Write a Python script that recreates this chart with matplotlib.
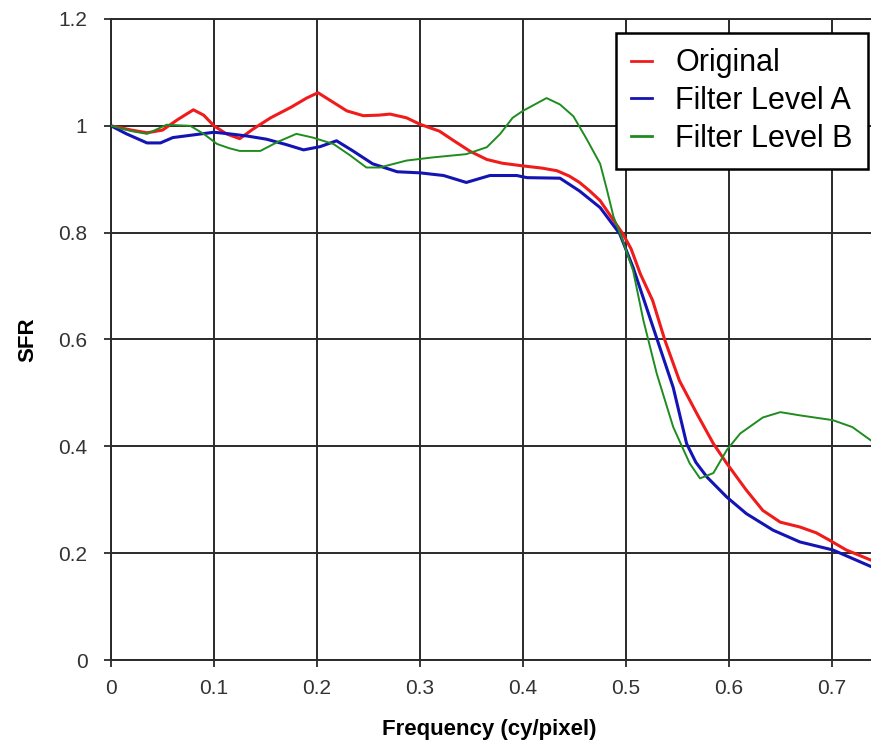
import matplotlib
matplotlib.use('Agg')
import matplotlib.pyplot as plt

# SFR curves, frequency in cy/pixel
orig_freq = [0, 0.02, 0.035, 0.05, 0.065, 0.08, 0.09, 0.1, 0.112, 0.125, 0.138, 0.155, 0.175, 0.19,
             0.201, 0.215, 0.229, 0.245, 0.26, 0.271, 0.287, 0.30, 0.319, 0.333, 0.349, 0.365, 0.38,
             0.40, 0.418, 0.433, 0.445, 0.455, 0.465, 0.475, 0.487, 0.497, 0.505, 0.514, 0.526, 0.538,
             0.552, 0.569, 0.585, 0.598, 0.617, 0.633, 0.65, 0.669, 0.685, 0.698, 0.714, 0.738]
orig_sfr = [1.0, 0.992, 0.987, 0.992, 1.012, 1.03, 1.02, 1.0, 0.985, 0.976, 0.994, 1.015, 1.035, 1.052,
            1.062, 1.045, 1.028, 1.019, 1.02, 1.022, 1.015, 1.003, 0.99, 0.972, 0.952, 0.937, 0.93,
            0.925, 0.921, 0.916, 0.906, 0.894, 0.878, 0.86, 0.826, 0.798, 0.77, 0.723, 0.673, 0.598,
            0.523, 0.461, 0.405, 0.368, 0.318, 0.28, 0.258, 0.249, 0.238, 0.224, 0.206, 0.187]

a_freq = [0, 0.015, 0.035, 0.048, 0.06, 0.08, 0.1, 0.115, 0.132, 0.151, 0.17, 0.187, 0.203, 0.219,
          0.235, 0.254, 0.278, 0.30, 0.323, 0.345, 0.368, 0.394, 0.404, 0.436, 0.455, 0.475, 0.494,
          0.507, 0.52, 0.533, 0.546, 0.559, 0.568, 0.579, 0.598, 0.617, 0.643, 0.669, 0.701, 0.738]
a_sfr = [1.0, 0.985, 0.968, 0.968, 0.978, 0.983, 0.988, 0.985, 0.981, 0.975, 0.965, 0.955, 0.961, 0.972,
         0.953, 0.929, 0.914, 0.912, 0.907, 0.894, 0.907, 0.907, 0.903, 0.902, 0.878, 0.847, 0.798,
         0.735, 0.66, 0.585, 0.51, 0.405, 0.37, 0.342, 0.305, 0.274, 0.243, 0.221, 0.206, 0.175]

b_freq = [0, 0.02, 0.035, 0.054, 0.077, 0.09, 0.103, 0.115, 0.125, 0.145, 0.162, 0.18, 0.196, 0.216,
          0.232, 0.248, 0.261, 0.287, 0.313, 0.345, 0.365, 0.378, 0.39, 0.40, 0.423, 0.436, 0.449,
          0.462, 0.475, 0.481, 0.488, 0.497, 0.507, 0.517, 0.53, 0.546, 0.562, 0.572, 0.585, 0.598,
          0.611, 0.633, 0.65, 0.669, 0.701, 0.72, 0.738]
b_sfr = [1.0, 0.99, 0.985, 1.002, 1.0, 0.985, 0.966, 0.958, 0.953, 0.953, 0.97, 0.985, 0.978, 0.966,
         0.945, 0.922, 0.922, 0.935, 0.941, 0.947, 0.96, 0.985, 1.015, 1.028, 1.052, 1.04, 1.018,
         0.975, 0.929, 0.885, 0.83, 0.785, 0.729, 0.636, 0.536, 0.436, 0.368, 0.34, 0.35, 0.393,
         0.424, 0.454, 0.464, 0.458, 0.449, 0.436, 0.411]

x_ticks = [0, 0.1, 0.2, 0.3, 0.4, 0.5, 0.6, 0.7]
y_ticks = [0, 0.2, 0.4, 0.6, 0.8, 1.0, 1.2]
y_tick_labels = ['0', '0.2', '0.4', '0.6', '0.8', '1', '1.2']

fig = plt.figure(figsize=(8.71, 7.43), dpi=100)
ax = fig.add_axes([111 / 871, 83 / 743, 762 / 871, 641 / 743])

ax.plot(orig_freq, orig_sfr, color='#f01c1c', lw=2.2, label='Original', zorder=3)
ax.plot(a_freq, a_sfr, color='#1414b4', lw=2.2, label='Filter Level A', zorder=3)
ax.plot(b_freq, b_sfr, color='#1e8c1e', lw=1.4, label='Filter Level B', zorder=3)

ax.set_xlim(0, 0.74)
ax.set_ylim(0, 1.2)
ax.set_xticks(x_ticks)
ax.set_xticklabels([str(t) for t in x_ticks])
ax.set_yticks(y_ticks)
ax.set_yticklabels(y_tick_labels)
ax.grid(True, color='#2a2a2a', lw=1.4)
ax.set_axisbelow(True)

ax.spines['right'].set_visible(False)
for s in ['left', 'bottom', 'top']:
    ax.spines[s].set_color('#2a2a2a')
    ax.spines[s].set_linewidth(1.4)

ax.tick_params(direction='out', length=5, width=1.3, color='#2a2a2a',
               labelsize=15, labelcolor='#333333')
ax.tick_params(axis='x', pad=9)
ax.tick_params(axis='y', pad=12)
for lbl in ax.get_xticklabels() + ax.get_yticklabels():
    lbl.set_family('Liberation Sans')

ax.set_xlabel('Frequency (cy/pixel)', fontsize=16, fontweight='bold',
              family='Liberation Sans', va='center')
ax.xaxis.set_label_coords(0.497, -0.109)
ax.set_ylabel('SFR', fontsize=16, fontweight='bold', family='Liberation Sans', va='center')
ax.yaxis.set_label_coords(-0.109, 0.499)

leg = ax.legend(loc='upper right', bbox_to_anchor=(0.9934, 0.978), borderaxespad=0,
                fancybox=False, framealpha=1, edgecolor='black', handlelength=0.7,
                handletextpad=0.75, labelspacing=0.25, borderpad=0.5,
                prop={'family': 'Liberation Sans', 'size': 22})
leg.get_frame().set_linewidth(1.8)
for h in leg.get_lines():
    h.set_linewidth(2)

plt.savefig('out.png', dpi=100)
